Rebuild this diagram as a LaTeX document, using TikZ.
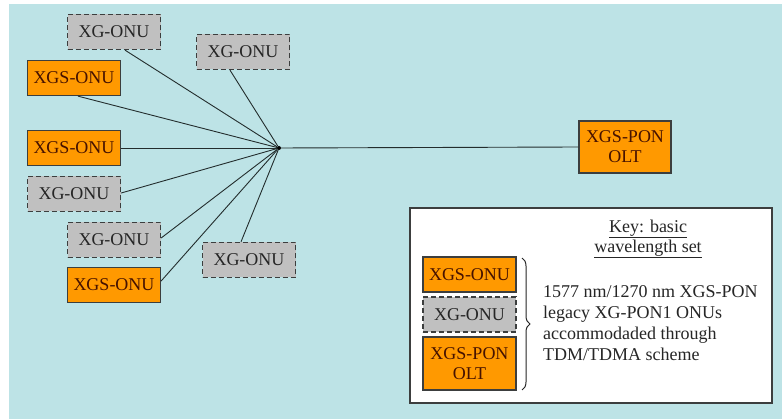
\documentclass[tikz,border=0pt]{standalone}
\usepackage{fontspec}
\setmainfont{Liberation Serif}
\usetikzlibrary{shapes,arrows,positioning,decorations.pathreplacing}
\definecolor{bgcyan}{RGB}{189,227,230}
\definecolor{onuorange}{RGB}{255,153,0}
\definecolor{onugray}{RGB}{192,192,192}
\definecolor{txtbrown}{RGB}{70,18,0}
\definecolor{edgegray}{RGB}{60,62,62}
\definecolor{linkgray}{RGB}{35,45,45}

\begin{document}
\begin{tikzpicture}[x=1pt,y=-1pt,
  xgsstyle/.style={rectangle,draw=edgegray,line width=1.3pt,fill=onuorange,text=txtbrown,minimum width=93pt,minimum height=35pt,inner sep=0pt,align=center,font=\fontsize{18}{20}\selectfont},
  xgstyle/.style={rectangle,draw=edgegray,line width=1.3pt,dash pattern=on 5pt off 3pt,fill=onugray,text=black!85,minimum width=93pt,minimum height=35pt,inner sep=0pt,font=\fontsize{18}{20}\selectfont},
  linkstyle/.style={draw=linkgray,line width=0.9pt}]
\useasboundingbox (0,0) rectangle (782,419);
\fill[bgcyan] (9,4) rectangle (782,419);

% splitter and tree
       \node [circle,fill=black,inner sep=0pt,minimum size=4pt] (hub) at (279,148) {};
       \node [xgstyle]  (g1) at (114,32) {XG-ONU};
       \node [xgstyle]  (g2) at (243,52) {XG-ONU};
       \node [xgsstyle] (s1) at (74,78) {XGS-ONU};
       \node [xgsstyle] (s2) at (74,148) {XGS-ONU};
       \node [xgstyle]  (g3) at (74,194) {XG-ONU};
       \node [xgstyle]  (g4) at (114,240) {XG-ONU};
       \node [xgsstyle] (s3) at (114,285) {XGS-ONU};
       \node [xgstyle]  (g5) at (249,260) {XG-ONU};
       \node [xgsstyle,minimum width=92pt,minimum height=52pt] (olt) at (625,147) {XGS-PON\\OLT};

\draw [linkstyle] (hub) -- ([xshift=11pt]g1.south);
\draw [linkstyle] (hub) -- ([xshift=-13pt]g2.south);
\draw [linkstyle] (hub) -- ([xshift=4pt]s1.south);
\draw [linkstyle] (hub) -- (s2.east);
\draw [linkstyle] (hub) -- ([yshift=1pt]g3.east);
\draw [linkstyle] (hub) -- ([yshift=2pt]g4.east);
\draw [linkstyle] (hub) -- ([yshift=4pt]s3.east);
\draw [linkstyle] (hub) -- ([xshift=-8pt]g5.north);
\draw [linkstyle] (hub) -- (olt.west);

% key
       \node [rectangle,draw=edgegray,line width=1.3pt,fill=white,minimum width=362pt,minimum height=195pt] (keybox) at (591,305.5) {};
       \node [align=center,text=black!85,font=\fontsize{18}{20}\selectfont] (keytitle) at (648,239) {\underline{Key: basic}\\\underline{wavelength set}};
       \node [xgsstyle] (ks) at (469.5,274.5) {XGS-ONU};
       \node [xgstyle]  (kg) at (469.5,314.5) {XG-ONU};
       \node [xgsstyle,minimum height=53pt] (ko) at (469.5,363.5) {XGS-PON\\OLT};
\draw [decorate,decoration={brace,amplitude=8pt},line width=1pt,black!85] (522,258) -- (522,390);
       \node [anchor=west,align=left,inner sep=0pt,text=black!85,font=\fontsize{18}{21}\selectfont] (keytext) at (543,323) {1577 nm/1270 nm XGS-PON\\legacy XG-PON1 ONUs\\accommodaded through\\TDM/TDMA scheme};
\end{tikzpicture}
\end{document}
